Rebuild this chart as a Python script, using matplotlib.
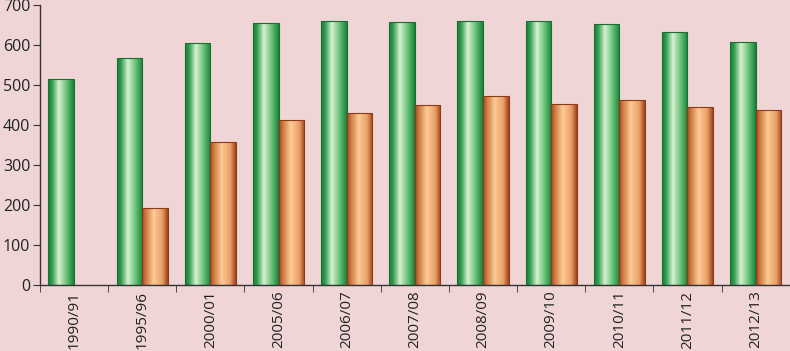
import numpy as np
import matplotlib
matplotlib.use("Agg")
import matplotlib.pyplot as plt
from matplotlib.colors import LinearSegmentedColormap

categories = ["1990/91", "1995/96", "2000/01", "2005/06", "2006/07", "2007/08",
              "2008/09", "2009/10", "2010/11", "2011/12", "2012/13"]
series_green = [514, 568, 606, 654, 659, 657, 659, 661, 653, 633, 608]
series_orange = [None, 192, 358, 412, 429, 449, 472, 452, 462, 446, 437]
yticks = [0, 100, 200, 300, 400, 500, 600, 700]

bg = "#EFD5D6"
plt.rcParams['font.family'] = ['Open Sans', 'DejaVu Sans']

fig = plt.figure(figsize=(7.9, 3.51), dpi=100, facecolor=bg)
ax = fig.add_axes([0.0506, 0.188, 0.949, 0.798])
ax.set_facecolor(bg)

green_cmap = LinearSegmentedColormap.from_list(
    "g", [(0.0, "#17803A"), (0.15, "#2E9A4C"), (0.42, "#D6F2D0"), (0.75, "#5DBB6E"), (1.0, "#17803A")])
orange_cmap = LinearSegmentedColormap.from_list(
    "o", [(0.0, "#A8461E"), (0.12, "#C9703A"), (0.45, "#FDCB96"), (0.78, "#E9A066"), (1.0, "#A0401A")])

x = np.arange(len(categories))
w = 0.375
grad = np.linspace(0, 1, 256).reshape(1, -1)

def draw(xpos, vals, cmap, edge):
    for xi, v in zip(xpos, vals):
        if v is None:
            continue
        bars = ax.bar(xi, v, width=w, align='edge', facecolor='none',
                      edgecolor=edge, linewidth=0.8, zorder=3)
        rect = bars[0]
        im = ax.imshow(grad, cmap=cmap, aspect='auto',
                       extent=(xi, xi + w, 0, v), zorder=2, interpolation='bilinear')
        im.set_clip_path(rect)

draw(x - w, series_green, green_cmap, "#1A6E32")
draw(x, series_orange, orange_cmap, "#8E3A18")

ax.set_xlim(-0.5, len(categories) - 0.5)
ax.set_ylim(0, 700)
ax.set_yticks(yticks)
ax.set_yticklabels([str(t) for t in yticks], fontsize=11.5, color="#222222")
ax.set_xticks(x)
ax.set_xticklabels(categories, rotation=90, fontsize=11, color="#222222")
ax.set_xticks(np.arange(len(categories) + 1) - 0.5, minor=True)
ax.tick_params(axis='x', which='major', length=0, pad=4)
ax.tick_params(axis='x', which='minor', length=5, direction='out', color="#333333")
ax.tick_params(axis='y', length=5, direction='out', color="#333333", pad=2)

for s in ['top', 'right']:
    ax.spines[s].set_visible(False)
for s in ['left', 'bottom']:
    ax.spines[s].set_color("#333333")
    ax.spines[s].set_linewidth(1.0)

fig.savefig("out.png", dpi=100, facecolor=bg)
